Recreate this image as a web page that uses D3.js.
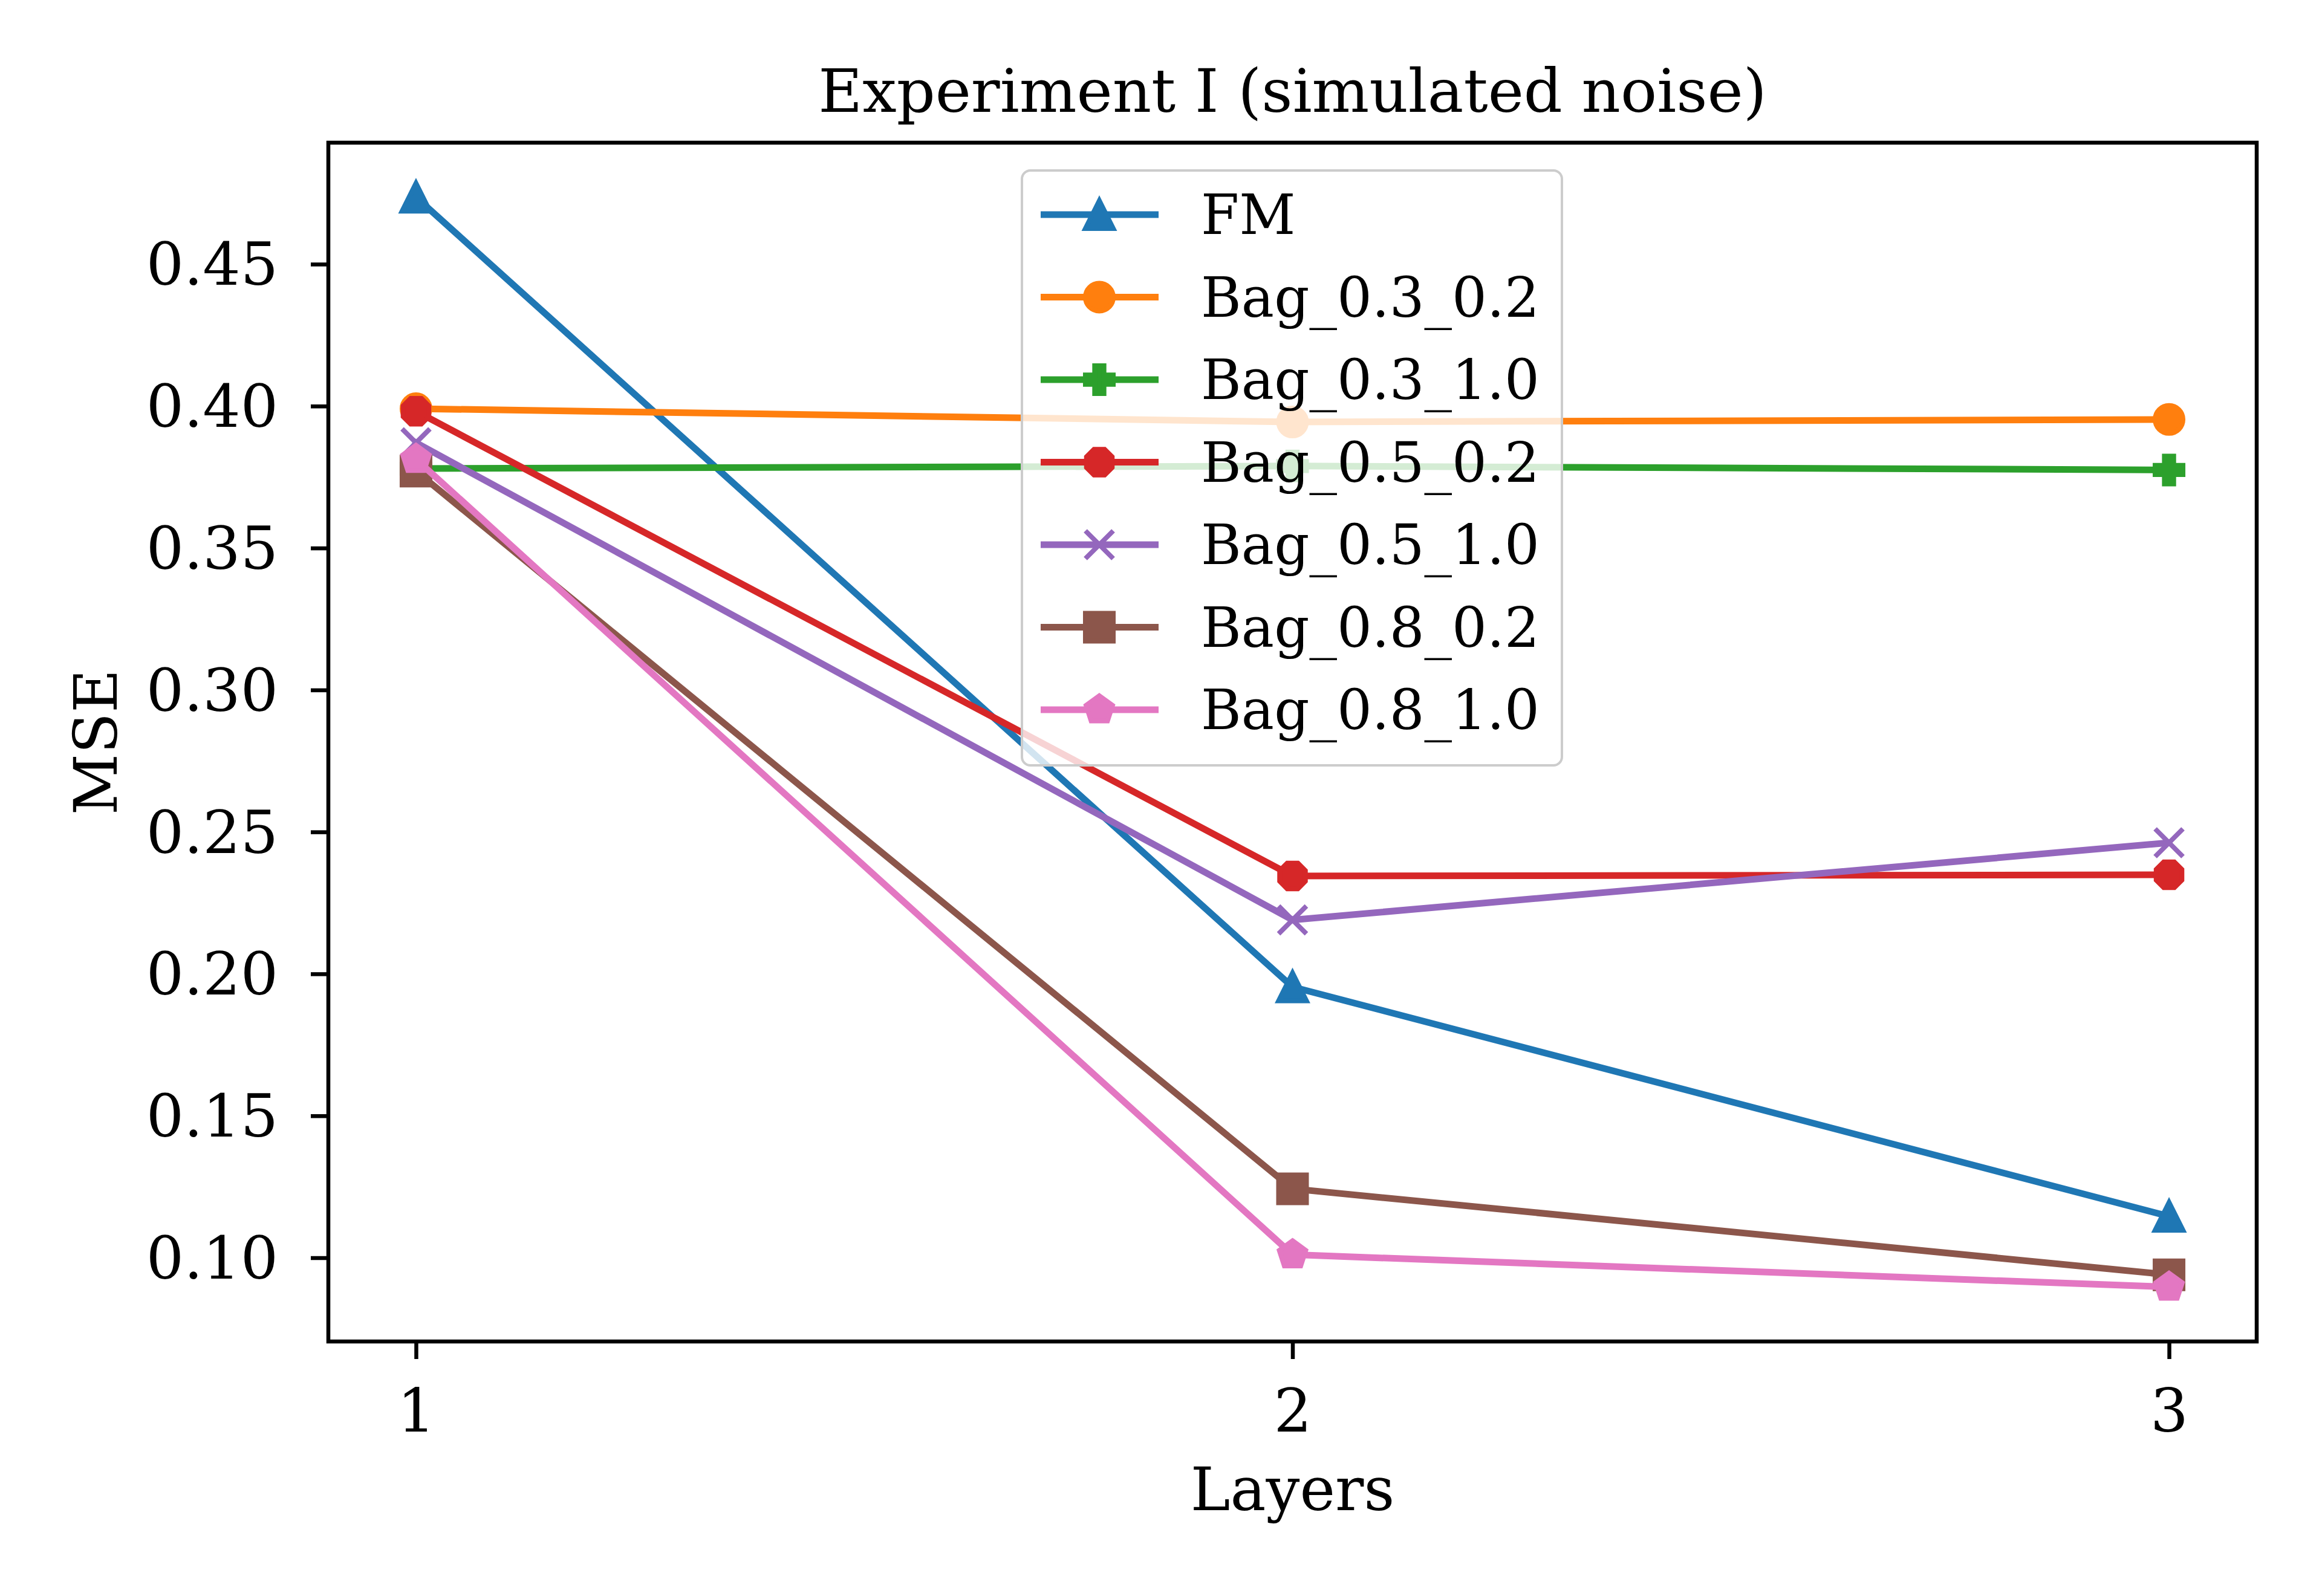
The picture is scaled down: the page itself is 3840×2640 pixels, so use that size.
<!DOCTYPE html>
<html>
<head>
<meta charset="utf-8">
<script src="https://cdn.jsdelivr.net/npm/d3@7"></script>
<style>
  html, body { margin: 0; padding: 0; background: #fff; }
  svg { display: block; }
  text { font-family: "DejaVu Serif", serif; fill: #000; }
</style>
</head>
<body>
<div id="chart"></div>
<script>
// data
const layers = [1, 2, 3];
const seriesNames = ["FM", "Bag_0.3_0.2", "Bag_0.3_1.0", "Bag_0.5_0.2", "Bag_0.5_1.0", "Bag_0.8_0.2", "Bag_0.8_1.0"];
const fm = [0.4736, 0.1954, 0.1146];
const bag03_02 = [0.3991, 0.3944, 0.3953];
const bag03_10 = [0.3780, 0.3789, 0.3775];
const bag05_02 = [0.3982, 0.2345, 0.2349];
const bag05_10 = [0.3871, 0.2190, 0.2462];
const bag08_02 = [0.3771, 0.1243, 0.0940];
const bag08_10 = [0.3813, 0.1011, 0.0897];
const yTicks = [0.10, 0.15, 0.20, 0.25, 0.30, 0.35, 0.40, 0.45];

const colors = ["#1f77b4", "#ff7f0e", "#2ca02c", "#d62728", "#9467bd", "#8c564b", "#e377c2"];
const markers = ["triangle", "circle", "plus", "octagon", "x", "square", "pentagon"];

const series = [fm, bag03_02, bag03_10, bag05_02, bag05_10, bag08_02, bag08_10].map((vals, i) => ({
    name: seriesNames[i],
    color: colors[i],
    marker: markers[i],
    points: vals.map((v, j) => ({ x: layers[j], y: v }))
}));

const width = 3840;
const height = 2640;
const plot = { left: 543, right: 3732, top: 236, bottom: 2219 };

// matplotlib-like autoscale: 5% margins
function padded(ext) {
    const m = (ext[1] - ext[0]) * 0.05;
    return [ext[0] - m, ext[1] + m];
}
const allY = series.flatMap(s => s.points.map(p => p.y));

const x = d3.scaleLinear().domain(padded(d3.extent(layers))).range([plot.left, plot.right]);
const y = d3.scaleLinear().domain(padded(d3.extent(allY))).range([plot.bottom, plot.top]);

const svg = d3.select("#chart").append("svg")
    .attr("width", width)
    .attr("height", height);

svg.append("rect").attr("width", width).attr("height", height).attr("fill", "#fff");

// marker paths, matplotlib-ish shapes
const ms = 46;
const mew = 8;
function polygon(pts) {
    return "M" + pts.map(p => p[0].toFixed(2) + "," + p[1].toFixed(2)).join("L") + "Z";
}
function regular(n, r, rot) {
    return d3.range(n).map(k => {
        const a = rot + k * 2 * Math.PI / n;
        return [r * Math.sin(a), -r * Math.cos(a)];
    });
}
function markerPath(type) {
    const r = ms / 2;
    switch (type) {
        case "triangle": return polygon([[0, -r], [-r, r], [r, r]]);
        case "circle": return d3.arc()({ innerRadius: 0, outerRadius: r, startAngle: 0, endAngle: 2 * Math.PI });
        case "plus": {
            const a = ms / 6;
            return polygon([[-a, -r], [a, -r], [a, -a], [r, -a], [r, a], [a, a], [a, r], [-a, r], [-a, a], [-r, a], [-r, -a], [-a, -a]]);
        }
        case "octagon": return polygon(regular(8, r, Math.PI / 8));
        case "x": return `M${-r},${-r}L${r},${r}M${-r},${r}L${r},${-r}`;
        case "square": return polygon([[-r, -r], [r, -r], [r, r], [-r, r]]);
        case "pentagon": return polygon(regular(5, r, 0));
    }
}
function drawMarker(g, type, color) {
    const filled = type !== "x";
    g.append("path")
        .attr("d", markerPath(type))
        .attr("fill", filled ? color : "none")
        .attr("stroke", color)
        .attr("stroke-width", mew)
        .attr("stroke-linejoin", "miter")
        .attr("stroke-linecap", "butt");
}

// axes frame and ticks
const axisG = svg.append("g");

const yAxis = d3.axisLeft(y).tickValues(yTicks).tickFormat(d3.format(".2f")).tickSize(29).tickPadding(54);
const yG = axisG.append("g").attr("transform", `translate(${plot.left},0)`).call(yAxis);
yG.select(".domain").remove();
yG.selectAll(".tick line").attr("stroke", "#000").attr("stroke-width", 6.5);
yG.selectAll(".tick text")
    .attr("font-family", "DejaVu Serif")
    .attr("font-size", 98)
    .attr("dy", null)
    .attr("dominant-baseline", "central");

const xAxis = d3.axisBottom(x).tickValues(layers).tickFormat(d3.format("d")).tickSize(29).tickPadding(40);
const xG = axisG.append("g").attr("transform", `translate(0,${plot.bottom})`).call(xAxis);
xG.select(".domain").remove();
xG.selectAll(".tick line").attr("stroke", "#000").attr("stroke-width", 6.5);
xG.selectAll(".tick text")
    .attr("font-family", "DejaVu Serif")
    .attr("font-size", 99)
    .attr("dy", null)
    .attr("y", 149)
    .attr("dominant-baseline", "alphabetic");

// lines
const line = d3.line().x(d => x(d.x)).y(d => y(d.y));
const dataG = svg.append("g");

series.forEach(s => {
    const g = dataG.append("g");
    g.append("path")
        .datum(s.points)
        .attr("d", line)
        .attr("fill", "none")
        .attr("stroke", s.color)
        .attr("stroke-width", 11)
        .attr("stroke-linejoin", "round")
        .attr("stroke-linecap", "square");
    s.points.forEach(p => {
        const m = g.append("g").attr("transform", `translate(${x(p.x)},${y(p.y)})`);
        drawMarker(m, s.marker, s.color);
    });
});

// spines
svg.append("rect")
    .attr("x", plot.left)
    .attr("y", plot.top)
    .attr("width", plot.right - plot.left)
    .attr("height", plot.bottom - plot.top)
    .attr("fill", "none")
    .attr("stroke", "#000")
    .attr("stroke-width", 6.5);

// labels
svg.append("text")
    .attr("x", (plot.left + plot.right) / 2)
    .attr("y", 185)
    .attr("text-anchor", "middle")
    .attr("font-size", 100)
    .text("Experiment I (simulated noise)");

svg.append("text")
    .attr("x", (plot.left + plot.right) / 2)
    .attr("y", 2498)
    .attr("text-anchor", "middle")
    .attr("font-size", 99)
    .text("Layers");

svg.append("text")
    .attr("transform", `translate(193,${(plot.top + plot.bottom) / 2}) rotate(-90)`)
    .attr("text-anchor", "middle")
    .attr("font-size", 99)
    .text("MSE");

// legend
const legend = svg.append("g").attr("transform", "translate(1690,282)");
legend.append("rect")
    .attr("width", 893)
    .attr("height", 984)
    .attr("rx", 14)
    .attr("fill", "#fff")
    .attr("fill-opacity", 0.8)
    .attr("stroke", "#cccccc")
    .attr("stroke-width", 4);

const rows = legend.selectAll(".row")
    .data(series)
    .join("g")
    .attr("class", "row")
    .attr("transform", (d, i) => `translate(0,${73 + i * 136.5})`);

rows.append("line")
    .attr("x1", 31).attr("x2", 226)
    .attr("stroke", d => d.color)
    .attr("stroke-width", 11);

rows.each(function(d) {
    const m = d3.select(this).append("g").attr("transform", "translate(128,0)");
    drawMarker(m, d.marker, d.color);
});

rows.append("text")
    .attr("x", 296)
    .attr("y", 32)
    .attr("font-size", 91)
    .text(d => d.name);
</script>
</body>
</html>
